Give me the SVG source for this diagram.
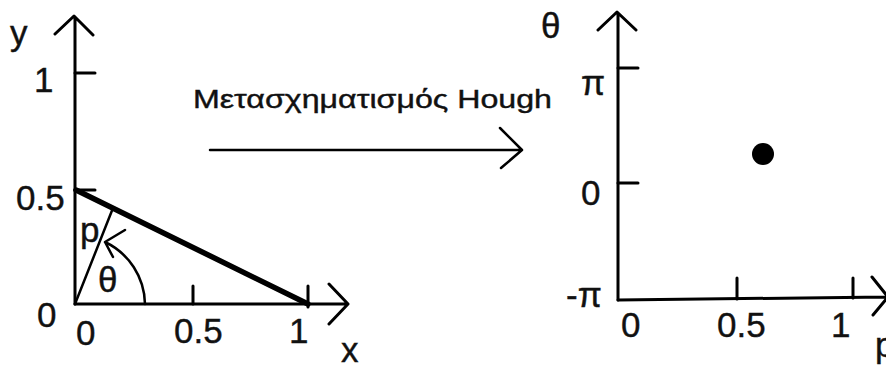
<svg xmlns="http://www.w3.org/2000/svg" width="886" height="365" viewBox="0 0 886 365">
<style>
  .ax{fill:none;stroke:#000;stroke-width:3;stroke-linecap:round;stroke-linejoin:round}
  .thin{fill:none;stroke:#000;stroke-width:2.5;stroke-linecap:round;stroke-linejoin:round}
  .lbl{font-family:"Liberation Sans",Arial,sans-serif;font-size:35px;fill:#111;stroke:#111;stroke-width:0.4}
  .ttl{font-family:"Liberation Sans",Arial,sans-serif;font-size:25px;fill:#111;stroke:#111;stroke-width:0.4}
</style>
<rect width="886" height="365" fill="#fff"/>
<g id="xy-plot">
  <path class="ax" d="M75,304 V17 M55,34 L74,16 L93,35"/>
  <path class="ax" d="M75,304 H347 M329,284 L348,304 L329,324"/>
  <path class="ax" d="M75,73 H95 M75,190 H95 M193,304 V286 M308,307 V286"/>
  <path fill="none" stroke="#000" stroke-width="5.5" stroke-linecap="round" d="M76,190 L308,304"/>
  <path class="thin" d="M75,304 L113,208"/>
  <path class="thin" d="M145,304 A70,70 0 0 0 105,242 M125,230 L105,242 L113,257"/>
  <text class="lbl" x="10" y="45">y</text>
  <text class="lbl" x="34" y="92">1</text>
  <text class="lbl" x="16" y="210">0.5</text>
  <text class="lbl" x="37" y="327">0</text>
  <text class="lbl" x="76" y="345">0</text>
  <text class="lbl" x="174" y="343">0.5</text>
  <text class="lbl" x="289" y="343">1</text>
  <text class="lbl" x="341" y="362">x</text>
  <text class="lbl" x="80" y="242" font-size="33">p</text>
  <text class="lbl" x="98" y="292" font-size="34">θ</text>
</g>
<g id="hough-label">
  <text class="ttl" x="193" y="108" textLength="359" lengthAdjust="spacingAndGlyphs">Μετασχηματισμός Hough</text>
</g>
<g id="connectors">
  <path class="thin" d="M210,150 H521 M500,128 L522,150 L501,168"/>
</g>
<g id="rho-theta-plot">
  <path class="ax" d="M618,300 V13 M598,30 L617,12 L636,30"/>
  <path class="ax" d="M618,300 L886,297 M872,277 L888,297 M873,315 L888,297"/>
  <path class="ax" d="M618,68 H638 M618,183 H638 M737,278 V299 M853,278 V298"/>
  <circle cx="763" cy="154" r="11" fill="#000"/>
  <text class="lbl" x="541" y="38">θ</text>
  <text class="lbl" x="581" y="95">π</text>
  <text class="lbl" x="581" y="205">0</text>
  <text class="lbl" x="566" y="307">-π</text>
  <text class="lbl" x="621" y="337">0</text>
  <text class="lbl" x="717" y="337">0.5</text>
  <text class="lbl" x="831" y="337">1</text>
  <text class="lbl" x="875" y="357">p</text>
</g>
</svg>
